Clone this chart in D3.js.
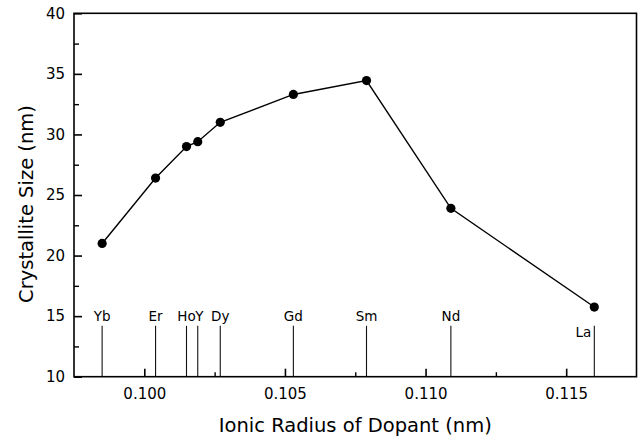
<!DOCTYPE html>
<html>
<head>
<meta charset="utf-8">
<script src="https://cdn.jsdelivr.net/npm/d3@7"></script>
<style>
  html, body { margin: 0; padding: 0; background: #fff; }
  svg { display: block; font-family: "DejaVu Sans", sans-serif; }
</style>
</head>
<body>
<svg width="644" height="439"></svg>
<script>
// dopant ions, their ionic radius (nm) and the measured crystallite size (nm)
const dopants = ["Yb", "Er", "Ho", "Y", "Dy", "Gd", "Sm", "Nd", "La"];
const ionicRadius = [0.0985, 0.1004, 0.1015, 0.1019, 0.1027, 0.1053, 0.1079, 0.1109, 0.1160];
const crystalliteSize = [21.0, 26.4, 29.0, 29.4, 31.0, 33.3, 34.45, 23.9, 15.75];

const xTicks = [0.100, 0.105, 0.110, 0.115];
const xMinorTicks = [0.1025, 0.1075, 0.1125];
const yTicks = [10, 15, 20, 25, 30, 35, 40];
const yMinorTicks = [12.5, 17.5, 22.5, 27.5, 32.5, 37.5];

// height of the reference bars marking each dopant's radius
const markerTop = 14.2;

var svg = d3.select("svg");

var plotLeft = 74, plotRight = 636.5, plotTop = 13.3, plotBottom = 376.7;

var x = d3.scaleLinear().domain([0.0975, 0.1175]).range([plotLeft, plotRight]);
var y = d3.scaleLinear().domain([10, 40]).range([plotBottom, plotTop]);

var points = dopants.map((d, i) => ({ name: d, r: ionicRadius[i], s: crystalliteSize[i] }));

// frame
svg.append("rect")
    .attr("x", plotLeft).attr("y", plotTop)
    .attr("width", plotRight - plotLeft).attr("height", plotBottom - plotTop)
    .attr("fill", "none").attr("stroke", "#000").attr("stroke-width", 1.6);

// ticks point inward
var xAxis = svg.append("g")
    .attr("transform", `translate(0,${plotBottom})`)
    .call(d3.axisBottom(x).tickValues(xTicks).tickSize(-8).tickPadding(12)
        .tickFormat(d3.format(".3f")));
xAxis.select(".domain").remove();
xAxis.selectAll("line").attr("stroke-width", 1.6);
xAxis.selectAll("text").attr("font-size", 15).attr("font-family", "DejaVu Sans").attr("fill", "#000");

svg.append("g")
    .attr("transform", `translate(0,${plotBottom})`)
    .call(d3.axisBottom(x).tickValues(xMinorTicks).tickSize(-4.5).tickFormat(""))
    .call(g => g.select(".domain").remove())
    .selectAll("line").attr("stroke-width", 1.4);

var yAxis = svg.append("g")
    .attr("transform", `translate(${plotLeft},0)`)
    .call(d3.axisLeft(y).tickValues(yTicks).tickSize(-8).tickPadding(9));
yAxis.select(".domain").remove();
yAxis.selectAll("line").attr("stroke-width", 1.6);
yAxis.selectAll("text").attr("font-size", 15).attr("font-family", "DejaVu Sans").attr("fill", "#000");

svg.append("g")
    .attr("transform", `translate(${plotLeft},0)`)
    .call(d3.axisLeft(y).tickValues(yMinorTicks).tickSize(-5).tickFormat(""))
    .call(g => g.select(".domain").remove())
    .selectAll("line").attr("stroke-width", 1.4);

// axis titles
svg.append("text")
    .attr("x", (plotLeft + plotRight) / 2).attr("y", 432)
    .attr("text-anchor", "middle").attr("font-size", 19.5)
    .text("Ionic Radius of Dopant (nm)");

svg.append("text")
    .attr("transform", "translate(33,204) rotate(-90)")
    .attr("text-anchor", "middle").attr("font-size", 19.5)
    .text("Crystallite Size (nm)");

// vertical bars at each dopant radius with its symbol
var markers = svg.append("g").attr("class", "markers");

markers.selectAll("line")
    .data(points)
    .enter().append("line")
    .attr("x1", d => x(d.r)).attr("x2", d => x(d.r))
    .attr("y1", y(10)).attr("y2", y(markerTop))
    .attr("stroke", "#111").attr("stroke-width", 1.1);

markers.selectAll("text")
    .data(points)
    .enter().append("text")
    .attr("font-size", 13.5)
    .attr("x", d => d.name === "Y" ? x(d.r) - 2.5 : d.name === "La" ? x(d.r) - 3 : x(d.r))
    .attr("y", d => d.name === "La" ? y(markerTop) + 11 : y(markerTop) - 4.5)
    .attr("text-anchor", d => d.name === "Y" ? "start" : d.name === "La" ? "end" : "middle")
    .text(d => d.name);

// data line and markers
var line = d3.line().x(d => x(d.r)).y(d => y(d.s));

svg.append("path")
    .datum(points)
    .attr("d", line)
    .attr("fill", "none").attr("stroke", "#000").attr("stroke-width", 1.4);

svg.append("g")
    .selectAll("circle")
    .data(points)
    .enter().append("circle")
    .attr("cx", d => x(d.r)).attr("cy", d => y(d.s))
    .attr("r", 4.6).attr("fill", "#000");
</script>
</body>
</html>
